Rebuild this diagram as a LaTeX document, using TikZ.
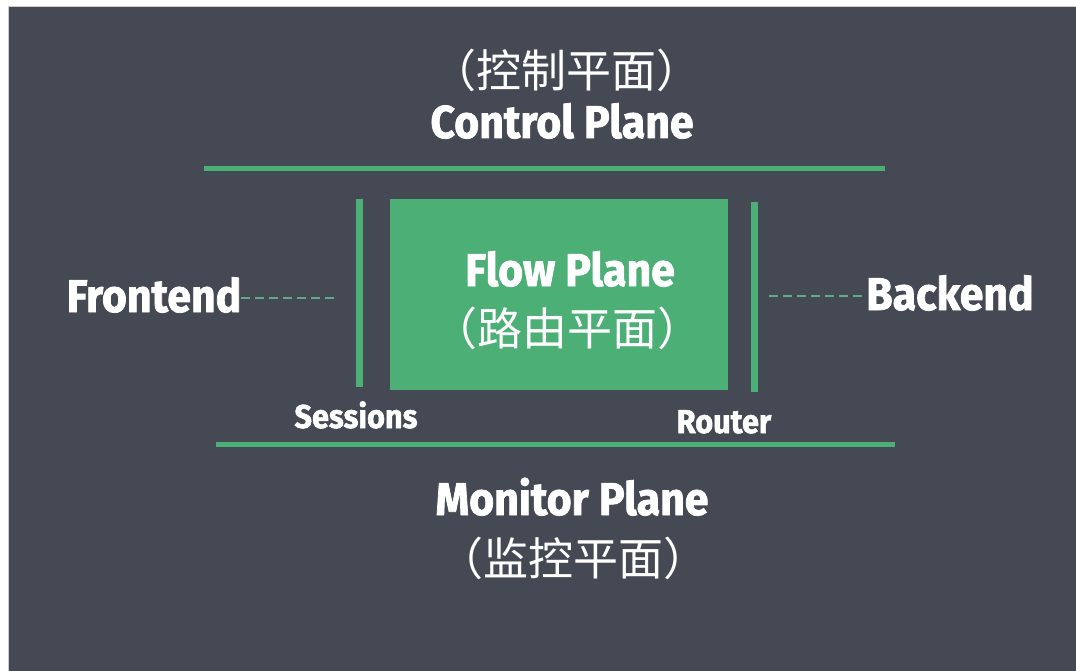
\documentclass[tikz,border=0pt]{standalone}
\usepackage{fontspec}
\setmainfont{Fira Sans}[FakeStretch=0.93, BoldFeatures={FakeBold=1.6}]
\newfontfamily\cjk{Noto Sans CJK SC}
\usetikzlibrary{positioning}
\definecolor{bgslate}{HTML}{454953}
\definecolor{planegreen}{HTML}{4CAF76}
\definecolor{linkgreen}{HTML}{5DAA8C}

\begin{document}
\begin{tikzpicture}[
    x=1pt, y=-1pt,
    % styles
    bar/.style={planegreen, line width=5pt},
    post/.style={planegreen, line width=7pt},
    link/.style={linkgreen, line width=2.2pt, dash pattern=on 9pt off 5pt},
    title/.style={white, font=\fontsize{46}{50}\selectfont\bfseries, anchor=base, inner sep=0pt},
    small/.style={white, font=\fontsize{33}{36}\selectfont\bfseries, anchor=base, inner sep=0pt},
    zh/.style={white, font=\fontsize{45}{48}\selectfont\cjk, anchor=base, inner sep=0pt}]

    % background
    \useasboundingbox (0,0) rectangle (1076,671);
    \fill [bgslate] (8,7) rectangle (1078,673);
    \draw [gray!40, line width=1pt] (8,673) -- (8,7) -- (1078,7);

    % control and monitor planes
    \draw [bar] (204,169) -- (885,169);
    \draw [bar] (216,444) -- (895,444);

    % flow plane
    \fill [planegreen] (390,199) rectangle (728,390);

    % sessions and router
    \draw [post] (359,199) -- (359,387);
    \draw [post] (754,202) -- (754,392);

    % texts
    \node (ctrlzh) [zh] at (566,88) {（控制平面）};
    \node (ctrl) [title] at (562,138) {Control Plane};
    \node (flow) [title] at (570,286) {Flow Plane};
    \node (flowzh) [zh] at (567,345) {（路由平面）};
    \node (front) [title] at (154,312) {Frontend};
    \node (back) [title] at (950,310) {Backend};
    \node (sess) [small] at (356,428) {Sessions};
    \node (rout) [small] at (724,433) {Router};
    \node (mon) [title] at (572,515) {Monitor Plane};
    \node (monzh) [zh] at (573,575) {（监控平面）};

    % dashed links
    \coordinate (fe) at (335,298);
    \coordinate (be) at (769,296);
    \draw [link] (front.east |- fe) -- (fe);
    \draw [link] (be) -- (back.west |- be);

\end{tikzpicture}
\end{document}
